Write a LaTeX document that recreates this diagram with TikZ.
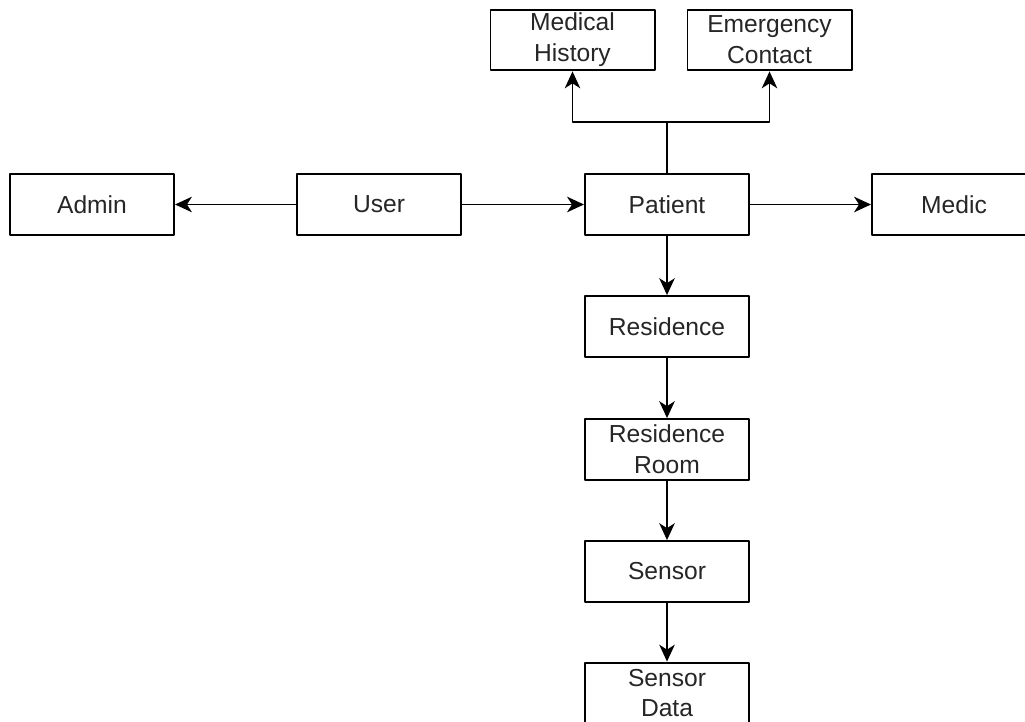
\documentclass[tikz,border=0pt]{standalone}
\usepackage{fontspec}
\setmainfont{Liberation Sans}
\usetikzlibrary{arrows.meta, positioning}
\tikzset{every text node part/.style={align=center}}
\tikzset{entity/.style = {draw, line width=1.4pt, minimum width=4.1cm, minimum height=1.52cm,
						 inner sep=0pt, font=\fontsize{17.5}{22}\selectfont, text=black!85}}
\tikzset{link/.style = {line width=1.4pt, -{Stealth[length=12pt, width=11pt, inset=3.5pt]}}}

\begin{document}
\begin{tikzpicture}[x=0.025cm, y=-0.025cm, line cap=round, line join=round]
		% Frame
		\clip (0,0) rectangle (1025,722);
		\fill[white] (0,0) rectangle (1025,722);
		
		% Top row
		\node[entity] (hist) at (572.5,40) {Medical\\History};
		\node[entity] (cont) at (769.5,40) {Emergency\\Contact};
		
		% Middle row
		\node[entity] (admin) at (92,204.5) {Admin};
		\node[entity] (user) at (379,204.5) {User};
		\node[entity] (pat) at (667,204.5) {Patient};
		\node[entity] (medic) at (954,204.5) {Medic};
		
		% Column
		\node[entity] (res) at (667,326.5) {Residence};
		\node[entity] (room) at (667,449.5) {Residence\\Room};
		\node[entity] (sens) at (667,571.5) {Sensor};
		\node[entity] (data) at (667,693) {Sensor\\Data};
		
		% Fork
		\coordinate (fork) at (667,122);
		
		% Links
		\draw[link] (user) -- (admin);
		\draw[link] (user) -- (pat);
		\draw[link] (pat) -- (medic);
		\draw[line width=1.4pt] (pat) -- (fork);
		\draw[link] (fork) -| (hist.south);
		\draw[link] (fork) -| (cont.south);
		%% Down the column
		\draw[link] (pat) -- (res);
		\draw[link] (res) -- (room);
		\draw[link] (room) -- (sens);
		\draw[link] (sens) -- (data);
	\end{tikzpicture}
\end{document}
